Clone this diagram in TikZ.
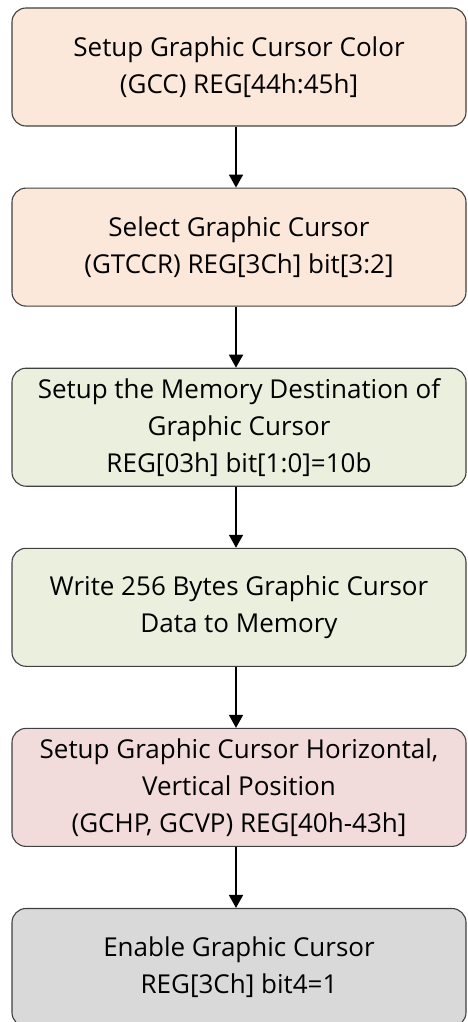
\documentclass[tikz,border=0pt]{standalone}
\usepackage{fontspec}
\setmainfont{Open Sans}
\usepackage{xcolor}
\definecolor{peachbox}{RGB}{252,232,218}
\definecolor{greenbox}{RGB}{235,240,222}
\definecolor{pinkbox}{RGB}{242,220,219}
\definecolor{greybox}{RGB}{217,217,217}
\definecolor{edgegrey}{RGB}{64,64,64}
\usetikzlibrary{arrows.meta, positioning}

\begin{document}
\begin{tikzpicture}[
  x=1pt, y=1pt,
  node distance=61pt,
  stepbox/.style={rectangle, rounded corners=14pt, draw=edgegrey, line width=1.1pt,
               minimum width=454pt, minimum height=118pt, align=center, inner sep=2pt,
               font=\fontsize{26}{37}\selectfont},
  arr/.style={-{Triangle[length=13pt, width=14pt]}, line width=1.7pt, color=black}
]
\useasboundingbox (0,0) rectangle (467,-1022);
\node[stepbox, fill=peachbox] (color) at (239,-67) {Setup Graphic Cursor Color\\(GCC) REG[44h:45h]};
\node[stepbox, fill=peachbox, below=of color]  (select) {Select Graphic Cursor\\(GTCCR) REG[3Ch] bit[3:2]};
\node[stepbox, fill=greenbox, below=of select] (dest)   {Setup the Memory Destination of\\Graphic Cursor\\REG[03h] bit[1:0]=10b};
\node[stepbox, fill=greenbox, below=of dest]   (write)  {Write 256 Bytes Graphic Cursor\\Data to Memory};
\node[stepbox, fill=pinkbox, below=of write]   (pos)    {Setup Graphic Cursor Horizontal,\\Vertical Position\\(GCHP, GCVP) REG[40h-43h]};
\node[stepbox, fill=greybox, below=of pos]     (enable) {Enable Graphic Cursor\\REG[3Ch] bit4=1};
\draw[arr] ([xshift=-3pt]color.south)  -- ([xshift=-3pt]select.north);
\draw[arr] ([xshift=-3pt]select.south) -- ([xshift=-3pt]dest.north);
\draw[arr] ([xshift=-3pt]dest.south)   -- ([xshift=-3pt]write.north);
\draw[arr] ([xshift=-3pt]write.south)  -- ([xshift=-3pt]pos.north);
\draw[arr] ([xshift=-3pt]pos.south)    -- ([xshift=-3pt]enable.north);
\end{tikzpicture}
\end{document}
